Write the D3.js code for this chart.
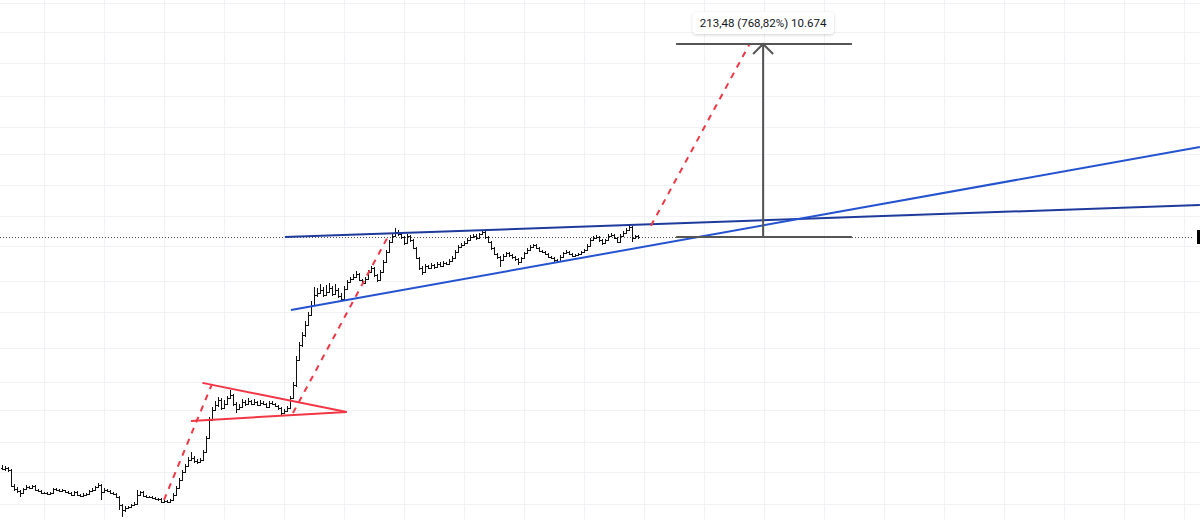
<!DOCTYPE html>
<html><head><meta charset="utf-8">
<script src="https://cdn.jsdelivr.net/npm/d3@7"></script>
<style>
html,body{margin:0;padding:0;background:#fff;overflow:hidden}
svg{display:block}
</style></head>
<body><svg id="c" width="1200" height="520"></svg>
<script>
// ---- data ----
const firstOpen = 2.10;
const closes = [2.07,2.09,2.04,1.71,1.65,1.62,1.58,1.65,1.69,1.67,1.71,1.63,1.62,1.58,1.58,1.56,1.58,1.65,1.63,1.62,
1.63,1.60,1.58,1.55,1.60,1.55,1.53,1.55,1.56,1.62,1.63,1.69,1.73,1.60,1.63,1.62,1.58,1.56,1.51,1.38,
1.31,1.34,1.35,1.38,1.40,1.55,1.60,1.53,1.51,1.51,1.49,1.48,1.48,1.43,1.45,1.43,1.46,1.55,1.67,1.83,
2.00,2.14,2.29,2.34,2.26,2.24,2.29,2.50,2.93,3.58,4.00,4.23,4.48,4.09,4.28,4.58,4.74,4.28,4.05,4.14,
4.38,4.28,4.43,4.28,4.38,4.23,4.33,4.28,4.14,4.33,4.28,4.18,4.09,3.87,3.96,4.09,4.58,5.29,7.00,8.28,
9.27,10.36,11.59,12.97,14.51,14.84,15.34,14.51,15.00,15.69,14.67,15.34,14.35,13.87,15.52,16.78,17.35,17.74,18.35,17.16,
16.59,17.35,18.77,19.62,18.15,17.16,18.77,20.99,23.48,26.26,28.08,29.37,28.71,27.77,25.96,28.08,26.85,24.55,21.95,19.62,
18.77,20.07,19.62,20.30,19.85,20.52,20.07,20.75,20.52,21.22,21.95,23.48,24.83,25.39,25.96,26.85,27.77,28.08,27.46,28.71,
29.37,27.77,26.26,24.55,22.96,22.20,21.46,22.45,23.22,22.70,22.20,21.71,20.99,21.95,23.22,24.01,24.83,25.39,24.55,23.74,
23.48,22.96,22.20,21.95,21.46,21.22,22.20,23.22,23.48,22.96,22.45,22.70,22.96,23.48,24.01,25.11,26.85,27.46,27.77,26.85,
25.96,26.85,28.08,28.40,27.46,26.26,28.08,29.04,30.03,31.06,27.46,28.08,27.77];
const highs = [2.15,2.13,2.12,2.06,1.75,1.68,1.64,1.67,1.72,1.71,1.73,1.72,1.65,1.63,1.60,1.60,1.60,1.67,1.67,1.65,
1.65,1.64,1.61,1.59,1.62,1.61,1.56,1.57,1.58,1.64,1.66,1.71,1.77,1.74,1.66,1.65,1.63,1.60,1.57,1.52,
1.40,1.36,1.37,1.40,1.43,1.63,1.62,1.61,1.55,1.53,1.52,1.51,1.50,1.49,1.47,1.46,1.48,1.58,1.70,1.87,
2.05,2.19,2.35,2.50,2.38,2.30,2.34,2.56,3.00,3.70,4.15,4.40,4.62,4.55,4.45,4.70,5.01,4.80,4.35,4.30,
4.52,4.48,4.55,4.48,4.50,4.44,4.45,4.40,4.32,4.42,4.40,4.34,4.24,4.12,4.05,4.18,4.70,5.50,7.30,8.60,
9.60,10.80,12.00,13.60,15.90,15.60,16.40,15.80,16.20,16.60,16.00,16.40,15.70,14.80,16.00,17.20,17.80,18.30,18.90,18.60,
17.40,17.70,19.20,20.10,19.90,18.40,19.20,21.50,24.00,27.00,29.00,30.70,30.00,29.20,28.20,28.70,28.50,27.10,24.80,22.20,
20.00,20.50,20.40,20.70,20.60,21.00,20.90,21.20,21.10,21.60,22.40,24.00,25.40,25.90,26.50,27.40,28.30,28.70,28.60,29.20,
29.90,29.60,28.10,26.50,24.80,23.30,22.50,22.90,23.60,23.50,22.90,22.40,21.90,22.30,23.60,24.50,25.30,25.80,25.60,24.80,
24.00,23.70,23.20,22.50,22.20,21.70,22.60,23.60,23.90,23.70,23.20,23.00,23.30,23.80,24.40,25.60,27.40,28.00,28.30,28.10,
27.10,27.30,28.60,29.00,28.70,27.70,28.60,29.60,30.60,31.76,31.30,28.50,28.40];
const lows = [2.04,2.03,2.00,1.68,1.62,1.58,1.51,1.56,1.63,1.65,1.66,1.61,1.60,1.56,1.56,1.54,1.55,1.57,1.61,1.60,
1.60,1.58,1.56,1.53,1.54,1.53,1.51,1.52,1.53,1.55,1.60,1.62,1.66,1.46,1.58,1.60,1.56,1.54,1.49,1.30,
1.21,1.28,1.32,1.33,1.36,1.39,1.53,1.51,1.49,1.49,1.47,1.46,1.45,1.41,1.42,1.41,1.42,1.45,1.54,1.65,
1.80,1.97,2.11,2.25,2.20,2.18,2.20,2.26,2.46,2.90,3.52,3.95,4.15,4.00,4.05,4.22,4.50,4.20,3.87,4.00,
4.10,4.20,4.22,4.22,4.24,4.17,4.18,4.22,4.08,4.10,4.22,4.12,4.02,3.78,3.82,3.92,4.05,4.52,5.20,6.90,
8.10,9.10,10.20,11.40,12.80,14.20,14.60,14.20,14.30,14.80,14.40,14.50,14.00,13.60,13.70,15.30,16.50,17.10,17.50,16.90,
16.30,16.40,17.20,18.50,17.80,16.80,17.00,18.60,20.80,23.20,25.90,27.80,28.20,27.30,25.40,25.70,26.40,24.20,21.60,19.20,
18.15,18.50,19.30,19.40,19.50,19.70,19.80,19.90,20.20,20.30,21.00,21.70,23.20,24.50,25.10,25.70,26.50,27.40,27.00,27.20,
28.40,27.30,25.90,24.10,22.60,21.80,19.90,21.20,22.20,22.30,21.80,21.30,20.30,20.70,21.70,22.90,23.70,24.50,24.20,23.40,
23.10,22.60,21.90,21.60,21.10,20.90,21.00,22.00,22.90,22.60,22.10,22.20,22.40,22.70,23.20,23.80,24.90,26.50,27.10,26.40,
25.50,25.70,26.60,27.80,27.10,25.90,26.00,27.80,28.80,29.80,26.20,27.10,27.20];
const opens = [firstOpen].concat(closes.slice(0, -1));

// price grid levels (log scale) and time grid bar indices
const priceGrid = [1.4, 2, 2.8, 4, 5.5, 8, 12, 17, 25, 35, 50, 70, 95, 135, 195, 275, 380];
const timeGrid = [14,34,54,74,94,114,134,154,174,194,214,234,254,274,294,314,334,354,374,394];

// drawings in (bar index, price)
const redTriangle = [
  {i0: 66.8, p0: 5.42, i1: 114.9, p1: 3.91},
  {i0: 63.0, p0: 3.54, i1: 114.9, p1: 3.91}
];
const redDashed = [
  {i0: 54.0, p0: 1.46, i1: 70.0, p1: 5.35},
  {i0: 97.0, p0: 3.87, i1: 129.3, p1: 29.04},
  {i0: 216.3, p0: 31.5, i1: 249.2, p1: 241.25}
];
const blueUpper = {i0: 94.3, p0: 27.77, i1: 399.3, p1: 39.74};
const blueLower = {i0: 96.3, p0: 12.26, i1: 399.3, p1: 76.08};
const measure = {iFrom: 224.7, iTo: 283.3, iMid: 253.7, pBase: 27.77, pTarget: 241.25};
const measureLabel = "213,48 (768,82%) 10.674";
const lastPrice = 27.77;

// ---- scales ----
const W = 1200, H = 520;
const x = d3.scaleLinear().domain([0, 212]).range([2, 638]);
const y = d3.scaleLog().domain([measure.pBase, measure.pTarget]).range([237, 44]);

const svg = d3.select("#c");

// grid
svg.append("g").selectAll("line").data(priceGrid).join("line")
  .attr("x1", 0).attr("x2", W)
  .attr("y1", d => Math.round(y(d)) + 0.5).attr("y2", d => Math.round(y(d)) + 0.5)
  .attr("stroke", "#f0f2f5").attr("stroke-width", 1);
svg.append("g").selectAll("line").data(timeGrid).join("line")
  .attr("x1", d => Math.round(x(d)) + 0.5).attr("x2", d => Math.round(x(d)) + 0.5)
  .attr("y1", 0).attr("y2", H)
  .attr("stroke", "#f0f2f5").attr("stroke-width", 1);

// last price dotted line
svg.append("line")
  .attr("x1", 0).attr("x2", 1192)
  .attr("y1", Math.round(y(lastPrice)) + 0.5).attr("y2", Math.round(y(lastPrice)) + 0.5)
  .attr("stroke", "#555").attr("stroke-width", 1).attr("stroke-dasharray", "1,2");
svg.append("rect")
  .attr("x", 1197).attr("width", 3)
  .attr("y", y(lastPrice) - 7).attr("height", 14)
  .attr("fill", "#000");

// OHLC bars
const bars = svg.append("g").attr("shape-rendering", "crispEdges").attr("stroke", "#111").attr("stroke-width", 1);
closes.forEach((c, i) => {
  const cx = Math.round(x(i)) + 0.5;
  bars.append("line").attr("x1", cx).attr("x2", cx).attr("y1", y(highs[i])).attr("y2", y(lows[i]));
  bars.append("line").attr("x1", cx - 1.5).attr("x2", cx).attr("y1", Math.round(y(opens[i])) + 0.5).attr("y2", Math.round(y(opens[i])) + 0.5);
  bars.append("line").attr("x1", cx).attr("x2", cx + 1.5).attr("y1", Math.round(y(c)) + 0.5).attr("y2", Math.round(y(c)) + 0.5);
});

function seg(g, d) {
  return g.append("line")
    .attr("x1", x(d.i0)).attr("y1", y(d.p0))
    .attr("x2", x(d.i1)).attr("y2", y(d.p1));
}

// blue channel lines
seg(svg, blueUpper).attr("stroke", "#1e3b9c").attr("stroke-width", 2);
seg(svg, blueLower).attr("stroke", "#2553d0").attr("stroke-width", 2);

// red triangle
redTriangle.forEach(d => seg(svg, d).attr("stroke", "#f23645").attr("stroke-width", 2));
// red dashed projections
redDashed.forEach(d => seg(svg, d).attr("stroke", "#f23645").attr("stroke-width", 2).attr("stroke-dasharray", "6,6"));

// measure tool
const mg = svg.append("g").attr("stroke", "#555").attr("stroke-width", 2).attr("fill", "none");
[measure.pBase, measure.pTarget].forEach(p => {
  mg.append("line").attr("x1", x(measure.iFrom)).attr("x2", x(measure.iTo)).attr("y1", y(p)).attr("y2", y(p));
});
const mx = x(measure.iMid);
mg.append("line").attr("x1", mx).attr("x2", mx).attr("y1", y(measure.pBase)).attr("y2", y(measure.pTarget));
mg.append("path").attr("d", `M${mx - 10},${y(measure.pTarget) + 10} L${mx},${y(measure.pTarget)} L${mx + 10},${y(measure.pTarget) + 10}`);

// label
const defs = svg.append("defs");
const f = defs.append("filter").attr("id", "sh").attr("x", "-20%").attr("y", "-50%").attr("width", "140%").attr("height", "200%");
f.append("feDropShadow").attr("dx", 0).attr("dy", 1).attr("stdDeviation", 1.5).attr("flood-color", "#000").attr("flood-opacity", 0.18);
const lg = svg.append("g");
const txt = lg.append("text")
  .attr("x", mx).attr("y", y(measure.pTarget) - 17)
  .attr("text-anchor", "middle")
  .attr("font-family", "Roboto, 'Noto Sans', sans-serif")
  .attr("font-size", 11.5)
  .attr("fill", "#131722")
  .text(measureLabel);
const bb = txt.node().getBBox();
lg.insert("rect", "text")
  .attr("x", bb.x - 7).attr("y", y(measure.pTarget) - 32)
  .attr("width", bb.width + 14).attr("height", 22)
  .attr("rx", 4).attr("fill", "#fff").attr("filter", "url(#sh)");
</script>
</body></html>
